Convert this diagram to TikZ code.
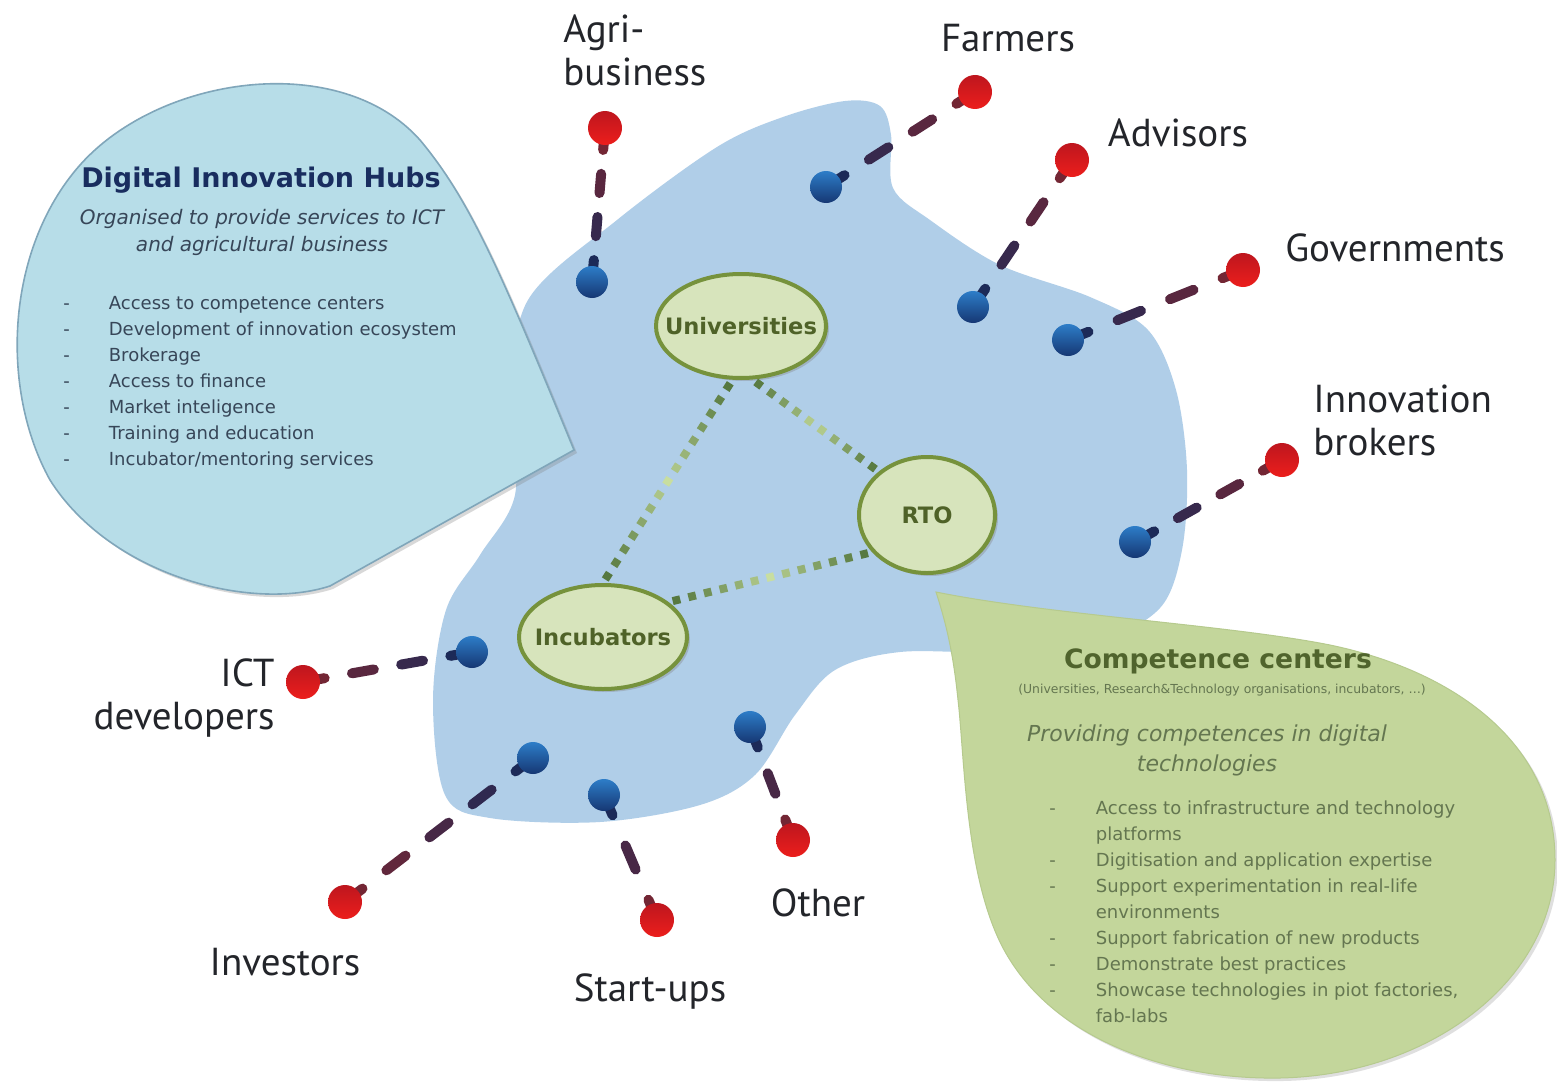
\documentclass[tikz,border=0pt]{standalone}
\usepackage{fontspec}
\setmainfont{DejaVu Sans}
\newfontfamily\lblfont{PT Sans}
\usepackage{xcolor}
\usepackage{tikz}
\usetikzlibrary{calc,shapes.geometric,shadows}

\definecolor{blobblue}{RGB}{176,206,232}
\definecolor{hubcyan}{RGB}{183,221,232}
\definecolor{hubedge}{RGB}{128,166,186}
\definecolor{ccgreen}{RGB}{195,214,155}
\definecolor{ccedge}{RGB}{182,202,142}
\definecolor{ellfill}{RGB}{215,228,188}
\definecolor{elldraw}{RGB}{118,146,60}
\definecolor{ellgreen}{RGB}{79,98,40}
\definecolor{dotdark}{RGB}{80,115,58}
\definecolor{dotlight}{RGB}{200,222,160}
\definecolor{linkblue}{RGB}{28,42,88}
\definecolor{linkred}{RGB}{115,38,52}
\definecolor{pinred}{RGB}{236,30,28}
\definecolor{pinredD}{RGB}{190,22,30}
\definecolor{pinblueL}{RGB}{45,125,200}
\definecolor{pinblueD}{RGB}{22,55,115}
\definecolor{hubnavy}{RGB}{25,45,95}
\definecolor{hubgrey}{RGB}{55,70,88}
\definecolor{ccolive}{RGB}{80,100,45}
\definecolor{ccgrey}{RGB}{100,118,80}
\definecolor{lbltext}{RGB}{35,37,42}

\pgfdeclarelayer{blobs}
\pgfdeclarelayer{links}
\pgfsetlayers{blobs,links,main}

% dashed link from an outer (red) pin #1 to an inner (blue) pin #2, #3 dashes
\newcommand{\pinlink}[3]{%
  \coordinate (#1s) at ($(#1.center)!11pt!(#2.center)$);
  \coordinate (#2s) at ($(#2.center)!11pt!(#1.center)$);
  \draw[dashseg, linkred] (#1.center) -- (#1s);
  \draw[dashseg, linkblue] (#2.center) -- (#2s);
  \pgfmathsetmacro{\gapf}{1/(1.8*#3+1)}
  \foreach \k in {1,...,#3}{
    \pgfmathsetmacro{\dsa}{\k*\gapf+(\k-1)*0.8*\gapf}
    \pgfmathsetmacro{\dsb}{\dsa+0.8*\gapf}
    \pgfmathtruncatemacro{\mixp}{50*(\dsa+\dsb)}
    \draw[dashseg, linkblue!\mixp!linkred] ($(#1s)!\dsa!(#2s)$) -- ($(#1s)!\dsb!(#2s)$);
  }%
}

% square-dotted link between two ellipses, #3 squares
\newcommand{\dotlink}[3]{%
  \foreach \k in {1,...,#3}{
    \pgfmathsetmacro{\dsa}{(\k-0.5-0.24)/#3}
    \pgfmathsetmacro{\dsb}{(\k-0.5+0.24)/#3}
    \pgfmathtruncatemacro{\mixp}{100*pow(abs(2*(\k-0.5)/#3-1)+0.001,0.7)}
    \draw[dotseg, dotdark!\mixp!dotlight] ($(#1)!\dsa!(#2)$) -- ($(#1)!\dsb!(#2)$);
  }%
}

\begin{document}
\begin{tikzpicture}[x=0.5pt, y=-0.5pt,
        bluepin/.style={circle, minimum size=16pt, inner sep=0pt, top color=pinblueL, bottom color=pinblueD},
        redpin/.style={circle, minimum size=17pt, inner sep=0pt, top color=pinredD, bottom color=pinred},
        dashseg/.style={line width=5pt, line cap=round},
        dotseg/.style={line width=4pt},
        outerlabel/.style={font=\lblfont\fontsize{19.5pt}{21.5pt}\selectfont, text=lbltext, inner sep=0pt},
        hubellipse/.style={ellipse, draw=elldraw, line width=2pt, fill=ellfill, inner sep=0pt, drop shadow={shadow xshift=1.5pt, shadow yshift=-1.5pt, opacity=0.35}},
        elltext/.style={font=\bfseries\fontsize{11.3pt}{13pt}\selectfont, text=ellgreen, inner sep=0pt},
        listtext/.style={anchor=north west, inner sep=0pt, font=\fontsize{9pt}{13pt}\selectfont},
    ]
    \useasboundingbox (0,0) rectangle (1557,1081);

    %Blob
    \begin{pgfonlayer}{blobs}
    \fill[white] (0,0) rectangle (1557,1081);
    \fill[blobblue] plot[smooth cycle, tension=0.55] coordinates {
        (433,700) (446,610) (480,555) (515,495) (512,400) (528,300)
        (617,220) (717,147) (783,117) (845,101) (880,106) (891,135)
        (893,188) (930,220) (1000,265) (1090,297) (1148,330) (1176,390)
        (1187,470) (1182,550) (1160,608) (1100,640) (1000,652) (900,652)
        (835,670) (795,715) (755,775) (700,805) (600,822) (490,818) (445,795)};
    \end{pgfonlayer}

    %Pins
    \node[redpin]  (agrirednode)    at (605,128) {};
    \node[bluepin] (agribluenode)   at (592,282) {};
    \node[redpin]  (farmrednode)    at (975,92)  {};
    \node[bluepin] (farmbluenode)   at (826,187) {};
    \node[redpin]  (advrednode)     at (1072,160) {};
    \node[bluepin] (advbluenode)    at (973,307) {};
    \node[redpin]  (govrednode)     at (1243,270) {};
    \node[bluepin] (govbluenode)    at (1068,340) {};
    \node[redpin]  (brokerrednode)  at (1282,460) {};
    \node[bluepin] (brokerbluenode) at (1135,542) {};
    \node[redpin]  (ictrednode)     at (303,682) {};
    \node[bluepin] (ictbluenode)    at (472,652) {};
    \node[redpin]  (invrednode)     at (345,902) {};
    \node[bluepin] (invbluenode)    at (533,758) {};
    \node[redpin]  (startrednode)   at (657,920) {};
    \node[bluepin] (startbluenode)  at (604,795) {};
    \node[redpin]  (otherrednode)   at (793,840) {};
    \node[bluepin] (otherbluenode)  at (750,727) {};

    %Links
    \begin{pgfonlayer}{links}
    \pinlink{agrirednode}{agribluenode}{2}
    \pinlink{farmrednode}{farmbluenode}{2}
    \pinlink{advrednode}{advbluenode}{2}
    \pinlink{govrednode}{govbluenode}{2}
    \pinlink{brokerrednode}{brokerbluenode}{2}
    \pinlink{ictrednode}{ictbluenode}{2}
    \pinlink{invrednode}{invbluenode}{3}
    \pinlink{startrednode}{startbluenode}{1}
    \pinlink{otherrednode}{otherbluenode}{1}
    \end{pgfonlayer}

    %Callouts
    \fill[hubcyan, draw=hubedge, line width=0.8pt, drop shadow={shadow xshift=1.5pt, shadow yshift=-1.5pt, opacity=0.3}]
        (574,450) -- (330,586) .. controls (250,612) and (110,575) .. (50,480)
        .. controls (0,390) and (5,250) .. (80,165)
        .. controls (160,75) and (340,50) .. (420,140)
        .. controls (470,200) and (500,270) .. (574,450) -- cycle;
    \fill[ccgreen, draw=ccedge, line width=0.5pt, drop shadow={shadow xshift=1.5pt, shadow yshift=-1.5pt, opacity=0.25}]
        (936,592) .. controls (1050,615) and (1230,625) .. (1330,645)
        .. controls (1450,670) and (1555,740) .. (1555,860)
        .. controls (1555,980) and (1430,1075) .. (1280,1078)
        .. controls (1170,1080) and (1060,1040) .. (1010,960)
        .. controls (965,890) and (965,760) .. (958,700)
        .. controls (953,650) and (945,620) .. (936,592) -- cycle;

    %Competence nodes
    \node[hubellipse, minimum width=85pt, minimum height=52pt, label={[elltext]center:Universities}] (univnode) at (741,326) {};
    \node[hubellipse, minimum width=68pt, minimum height=58pt, label={[elltext]center:RTO}] (rtonode) at (927,515) {};
    \node[hubellipse, minimum width=84pt, minimum height=52pt, label={[elltext]center:Incubators}] (incubnode) at (603,637) {};
    \dotlink{univnode.261}{incubnode.90}{15}
    \dotlink{univnode.282}{rtonode.138}{10}
    \dotlink{incubnode.28}{rtonode.214}{13}

    %Outer labels
    \node[outerlabel, anchor=west, align=left] (agrilabel) at (563,50) {Agri-\\business};
    \node[outerlabel] (farmlabel) at (1008,38) {Farmers};
    \node[outerlabel] (advlabel) at (1178,133) {Advisors};
    \node[outerlabel] (govlabel) at (1395,248) {Governments};
    \node[outerlabel, anchor=west, align=left] (brokerlabel) at (1313,420) {Innovation\\brokers};
    \node[outerlabel, anchor=east, align=right] (ictlabel) at (275,698) {ICT\\developers};
    \node[outerlabel] (invlabel) at (285,962) {Investors};
    \node[outerlabel] (startlabel) at (650,992) {Start-ups};
    \node[outerlabel] (otherlabel) at (818,903) {Other};

    %Hub text
    \node[font=\bfseries\fontsize{13.5pt}{16pt}\selectfont, text=hubnavy] (hubtitlenode) at (261,180) {Digital Innovation Hubs};
    \node[font=\itshape\fontsize{10pt}{13.5pt}\selectfont, text=hubgrey, align=center] (hubsubnode) at (262,232)
        {Organised to provide services to ICT\\and agricultural business};
    \node[listtext, text=hubgrey] (hublistnode) at (63,291) {%
        \begin{tabular}{@{}l@{\hspace{19.5pt}}l@{}}
        - & Access to competence centers\\
        - & Development of innovation ecosystem\\
        - & Brokerage\\
        - & Access to finance\\
        - & Market inteligence\\
        - & Training and education\\
        - & Incubator/mentoring services
        \end{tabular}};

    %Competence text
    \node[font=\bfseries\fontsize{13.3pt}{16pt}\selectfont, text=ccolive] (cctitlenode) at (1218,661) {Competence centers};
    \node[font=\fontsize{6.2pt}{8pt}\selectfont, text=ccgrey] (ccsubnode) at (1222,690)
        {(Universities, Research\&Technology organisations, incubators, \ldots)};
    \node[font=\itshape\fontsize{11pt}{15pt}\selectfont, text=ccgrey, align=center] (ccitnode) at (1207,750)
        {Providing competences in digital\\technologies};
    \node[listtext, text=ccgrey] (cclistnode) at (1049,796) {%
        \begin{tabular}{@{}l@{\hspace{20pt}}l@{}}
        - & Access to infrastructure and technology\\
          & platforms\\
        - & Digitisation and application expertise\\
        - & Support experimentation in real-life\\
          & environments\\
        - & Support fabrication of new products\\
        - & Demonstrate best practices\\
        - & Showcase technologies in piot factories,\\
          & fab-labs
        \end{tabular}};
\end{tikzpicture}
\end{document}
